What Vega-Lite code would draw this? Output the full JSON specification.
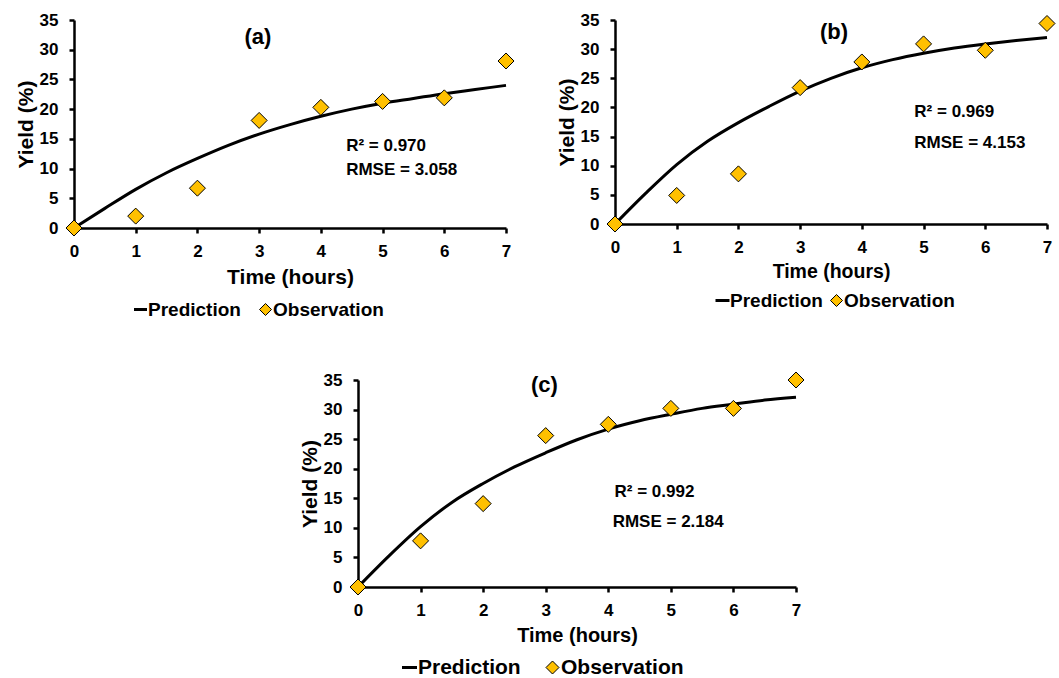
{
  "$schema": "https://vega.github.io/schema/vega-lite/v6.json",
  "padding": {"left": 15, "top": 11, "right": 0, "bottom": 0},
  "background": "white",
  "config": {
    "view": {"stroke": null},
    "axis": {
      "grid": false,
      "domainColor": "black", "domainWidth": 2.5,
      "tickColor": "black", "tickWidth": 2.5, "tickSize": 5,
      "labelFont": "Liberation Sans", "labelFontWeight": "bold", "labelFontSize": 17, "labelColor": "black",
      "titleFont": "Liberation Sans", "titleFontWeight": "bold", "titleColor": "black",
      "labelFlush": false, "labelOverlap": false
    },
    "axisX": {"labelPadding": 10, "titlePadding": 7},
    "axisY": {"labelPadding": 11, "titlePadding": 3},
    "legend": {
      "labelFont": "Liberation Sans", "labelFontWeight": "bold", "labelColor": "black",
      "padding": 0, "offset": 0, "labelOffset": -2, "title": null
    }
  },
  "resolve": {"scale": {"stroke": "independent", "fill": "independent"}},
  "spacing": 50,
  "vconcat": [
    {
      "hconcat": [
        {
          "width": 432, "height": 208,
          "encoding": {
            "x": {"field": "t", "type": "quantitative", "scale": {"domain": [0, 7], "nice": false}, "axis": {"values": [0,1,2,3,4,5,6,7], "format": "d", "title": "Time (hours)", "titleFontSize": 21}},
            "y": {"field": "y", "type": "quantitative", "scale": {"domain": [0, 35], "nice": false}, "axis": {"values": [0,5,10,15,20,25,30,35], "format": "d", "title": "Yield (%)", "titleFontSize": 21}}
          },
          "layer": [
            {
              "data": {"values": [
                {"t": 0, "y": 0, "s": "Prediction"}, {"t": 0.5, "y": 3.3, "s": "Prediction"}, {"t": 1, "y": 6.5, "s": "Prediction"},
                {"t": 1.5, "y": 9.3, "s": "Prediction"}, {"t": 2, "y": 11.7, "s": "Prediction"}, {"t": 2.5, "y": 13.9, "s": "Prediction"},
                {"t": 3, "y": 15.8, "s": "Prediction"}, {"t": 3.5, "y": 17.4, "s": "Prediction"}, {"t": 4, "y": 18.8, "s": "Prediction"},
                {"t": 4.5, "y": 20.0, "s": "Prediction"}, {"t": 5, "y": 21.0, "s": "Prediction"}, {"t": 5.5, "y": 21.8, "s": "Prediction"},
                {"t": 6, "y": 22.6, "s": "Prediction"}, {"t": 6.5, "y": 23.3, "s": "Prediction"}, {"t": 7, "y": 24.0, "s": "Prediction"}
              ]},
              "mark": {"type": "line", "strokeWidth": 3, "interpolate": "monotone"},
              "encoding": {
                "stroke": {"field": "s", "type": "nominal", "scale": {"domain": ["Prediction"], "range": ["black"]},
                  "legend": {"orient": "none", "legendX": 57, "legendY": 280, "symbolType": "stroke", "symbolSize": 169, "symbolStrokeWidth": 3, "labelFontSize": 19}}
              }
            },
            {
              "data": {"values": [
                {"t": 0, "y": 0, "s": "Observation"}, {"t": 1, "y": 2.0, "s": "Observation"}, {"t": 2, "y": 6.7, "s": "Observation"},
                {"t": 3, "y": 18.1, "s": "Observation"}, {"t": 4, "y": 20.3, "s": "Observation"}, {"t": 5, "y": 21.3, "s": "Observation"},
                {"t": 6, "y": 21.9, "s": "Observation"}, {"t": 7, "y": 28.1, "s": "Observation"}
              ]},
              "mark": {"type": "point", "shape": "diamond", "filled": true, "size": 256, "stroke": "black", "strokeWidth": 1, "opacity": 1},
              "encoding": {
                "fill": {"field": "s", "type": "nominal", "scale": {"domain": ["Observation"], "range": ["#FFC000"]},
                  "legend": {"orient": "none", "legendX": 182, "legendY": 280, "symbolType": "diamond", "symbolSize": 144, "symbolStrokeColor": "black", "symbolStrokeWidth": 1, "symbolOpacity": 1, "labelFontSize": 19}}
              }
            },
            {
              "data": {"values": [
                {"t": 4.41, "y": 13.8, "label": "R² = 0.970"},
                {"t": 4.41, "y": 9.7, "label": "RMSE = 3.058"}
              ]},
              "mark": {"type": "text", "align": "left", "baseline": "middle", "font": "Liberation Sans", "fontWeight": "bold", "fontSize": 17, "color": "black"},
              "encoding": {"text": {"field": "label"}}
            },
            {
              "data": {"values": [{"t": 2.98, "y": 32.2, "label": "(a)"}]},
              "mark": {"type": "text", "align": "center", "baseline": "middle", "font": "Liberation Sans", "fontWeight": "bold", "fontSize": 22, "color": "black"},
              "encoding": {"text": {"field": "label"}}
            }
          ]
        },
        {
          "width": 432, "height": 204,
          "encoding": {
            "x": {"field": "t", "type": "quantitative", "scale": {"domain": [0, 7], "nice": false}, "axis": {"values": [0,1,2,3,4,5,6,7], "format": "d", "title": "Time (hours)", "titleFontSize": 19.5}},
            "y": {"field": "y", "type": "quantitative", "scale": {"domain": [0, 35], "nice": false}, "axis": {"values": [0,5,10,15,20,25,30,35], "format": "d", "title": "Yield (%)", "titleFontSize": 21}}
          },
          "layer": [
            {
              "data": {"values": [
                {"t": 0, "y": 0, "s": "Prediction"}, {"t": 0.5, "y": 5.3, "s": "Prediction"}, {"t": 1, "y": 10.2, "s": "Prediction"},
                {"t": 1.5, "y": 14.2, "s": "Prediction"}, {"t": 2, "y": 17.4, "s": "Prediction"}, {"t": 2.5, "y": 20.2, "s": "Prediction"},
                {"t": 3, "y": 22.8, "s": "Prediction"}, {"t": 3.5, "y": 25.0, "s": "Prediction"}, {"t": 4, "y": 26.8, "s": "Prediction"},
                {"t": 4.5, "y": 28.2, "s": "Prediction"}, {"t": 5, "y": 29.3, "s": "Prediction"}, {"t": 5.5, "y": 30.2, "s": "Prediction"},
                {"t": 6, "y": 30.9, "s": "Prediction"}, {"t": 6.5, "y": 31.5, "s": "Prediction"}, {"t": 7, "y": 32.0, "s": "Prediction"}
              ]},
              "mark": {"type": "line", "strokeWidth": 3, "interpolate": "monotone"},
              "encoding": {
                "stroke": {"field": "s", "type": "nominal", "scale": {"domain": ["Prediction"], "range": ["black"]},
                  "legend": {"orient": "none", "legendX": 98, "legendY": 271, "symbolType": "stroke", "symbolSize": 196, "symbolStrokeWidth": 3, "labelFontSize": 19}}
              }
            },
            {
              "data": {"values": [
                {"t": 0, "y": 0, "s": "Observation"}, {"t": 1, "y": 4.9, "s": "Observation"}, {"t": 2, "y": 8.6, "s": "Observation"},
                {"t": 3, "y": 23.4, "s": "Observation"}, {"t": 4, "y": 27.8, "s": "Observation"}, {"t": 5, "y": 30.9, "s": "Observation"},
                {"t": 6, "y": 29.8, "s": "Observation"}, {"t": 7, "y": 34.4, "s": "Observation"}
              ]},
              "mark": {"type": "point", "shape": "diamond", "filled": true, "size": 256, "stroke": "black", "strokeWidth": 1, "opacity": 1},
              "encoding": {
                "fill": {"field": "s", "type": "nominal", "scale": {"domain": ["Observation"], "range": ["#FFC000"]},
                  "legend": {"orient": "none", "legendX": 212, "legendY": 271, "symbolType": "diamond", "symbolSize": 144, "symbolStrokeColor": "black", "symbolStrokeWidth": 1, "symbolOpacity": 1, "labelFontSize": 19}}
              }
            },
            {
              "data": {"values": [
                {"t": 4.85, "y": 19.2, "label": "R² = 0.969"},
                {"t": 4.85, "y": 13.9, "label": "RMSE = 4.153"}
              ]},
              "mark": {"type": "text", "align": "left", "baseline": "middle", "font": "Liberation Sans", "fontWeight": "bold", "fontSize": 17, "color": "black"},
              "encoding": {"text": {"field": "label"}}
            },
            {
              "data": {"values": [{"t": 3.55, "y": 33.0, "label": "(b)"}]},
              "mark": {"type": "text", "align": "center", "baseline": "middle", "font": "Liberation Sans", "fontWeight": "bold", "fontSize": 22, "color": "black"},
              "encoding": {"text": {"field": "label"}}
            }
          ]
        }
      ],
      "spacing": 40,
      "resolve": {"scale": {"stroke": "independent", "fill": "independent"}}
    },
    {
      "hconcat": [
        {
          "width": 205, "height": 10,
          "data": {"values": [{"a": 0}]},
          "mark": {"type": "point", "opacity": 0},
          "encoding": {}
        },
        {
          "width": 438, "height": 207,
          "encoding": {
            "x": {"field": "t", "type": "quantitative", "scale": {"domain": [0, 7], "nice": false}, "axis": {"values": [0,1,2,3,4,5,6,7], "format": "d", "title": "Time (hours)", "titleFontSize": 20}},
            "y": {"field": "y", "type": "quantitative", "scale": {"domain": [0, 35], "nice": false}, "axis": {"values": [0,5,10,15,20,25,30,35], "format": "d", "title": "Yield (%)", "titleFontSize": 21}}
          },
          "layer": [
            {
              "data": {"values": [
                {"t": 0, "y": 0, "s": "Prediction"}, {"t": 0.5, "y": 5.3, "s": "Prediction"}, {"t": 1, "y": 10.2, "s": "Prediction"},
                {"t": 1.5, "y": 14.3, "s": "Prediction"}, {"t": 2, "y": 17.5, "s": "Prediction"}, {"t": 2.5, "y": 20.3, "s": "Prediction"},
                {"t": 3, "y": 22.7, "s": "Prediction"}, {"t": 3.5, "y": 24.9, "s": "Prediction"}, {"t": 4, "y": 26.7, "s": "Prediction"},
                {"t": 4.5, "y": 28.1, "s": "Prediction"}, {"t": 5, "y": 29.2, "s": "Prediction"}, {"t": 5.5, "y": 30.2, "s": "Prediction"},
                {"t": 6, "y": 30.9, "s": "Prediction"}, {"t": 6.5, "y": 31.6, "s": "Prediction"}, {"t": 7, "y": 32.1, "s": "Prediction"}
              ]},
              "mark": {"type": "line", "strokeWidth": 3, "interpolate": "monotone"},
              "encoding": {
                "stroke": {"field": "s", "type": "nominal", "scale": {"domain": ["Prediction"], "range": ["black"]},
                  "legend": {"orient": "none", "legendX": 41, "legendY": 277, "symbolType": "stroke", "symbolSize": 225, "symbolStrokeWidth": 3, "labelFontSize": 21}}
              }
            },
            {
              "data": {"values": [
                {"t": 0, "y": 0, "s": "Observation"}, {"t": 1, "y": 7.8, "s": "Observation"}, {"t": 2, "y": 14.1, "s": "Observation"},
                {"t": 3, "y": 25.6, "s": "Observation"}, {"t": 4, "y": 27.5, "s": "Observation"}, {"t": 5, "y": 30.2, "s": "Observation"},
                {"t": 6, "y": 30.2, "s": "Observation"}, {"t": 7, "y": 35.0, "s": "Observation"}
              ]},
              "mark": {"type": "point", "shape": "diamond", "filled": true, "size": 256, "stroke": "black", "strokeWidth": 1, "opacity": 1},
              "encoding": {
                "fill": {"field": "s", "type": "nominal", "scale": {"domain": ["Observation"], "range": ["#FFC000"]},
                  "legend": {"orient": "none", "legendX": 184, "legendY": 277, "symbolType": "diamond", "symbolSize": 169, "symbolStrokeColor": "black", "symbolStrokeWidth": 1, "symbolOpacity": 1, "labelFontSize": 21}}
              }
            },
            {
              "data": {"values": [
                {"t": 4.1, "y": 16.1, "label": "R² = 0.992"},
                {"t": 4.07, "y": 11.06, "label": "RMSE = 2.184"}
              ]},
              "mark": {"type": "text", "align": "left", "baseline": "middle", "font": "Liberation Sans", "fontWeight": "bold", "fontSize": 17, "color": "black"},
              "encoding": {"text": {"field": "label"}}
            },
            {
              "data": {"values": [{"t": 2.98, "y": 34.1, "label": "(c)"}]},
              "mark": {"type": "text", "align": "center", "baseline": "middle", "font": "Liberation Sans", "fontWeight": "bold", "fontSize": 22, "color": "black"},
              "encoding": {"text": {"field": "label"}}
            }
          ]
        }
      ],
      "spacing": 20,
      "resolve": {"scale": {"stroke": "independent", "fill": "independent"}}
    }
  ]
}
